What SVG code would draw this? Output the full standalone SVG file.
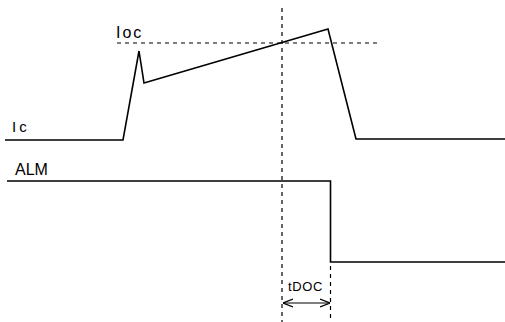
<svg xmlns="http://www.w3.org/2000/svg" width="505" height="322" viewBox="0 0 505 322">
<defs>
<style>
.w{fill:none;stroke:#000;stroke-width:1.6;stroke-linejoin:miter}
.d{fill:none;stroke:#000;stroke-width:1.2;stroke-dasharray:4 4}
.t{font-family:"Liberation Sans",Arial,sans-serif;fill:#000}
</style>
<marker id="ah" viewBox="0 0 10 10" refX="10" refY="5" markerWidth="10" markerHeight="10" markerUnits="userSpaceOnUse" orient="auto-start-reverse">
<path d="M0,1 L10,5 L0,9" fill="none" stroke="#000" stroke-width="1.2"/>
</marker>
</defs>
<rect width="505" height="322" fill="#fff"/>
<g id="connectors">
<line class="d" x1="117" y1="43" x2="378" y2="43"/>
<line class="d" x1="282" y1="8" x2="282" y2="322"/>
<line class="d" x1="330.5" y1="266" x2="330.5" y2="322"/>
<line x1="283" y1="303" x2="330" y2="303" stroke="#000" stroke-width="1.1" marker-start="url(#ah)" marker-end="url(#ah)"/>
</g>
<g id="ic">
<polyline class="w" points="5,140 123,140 139,51 144,83 328,29 356,139 505,139"/>
<text class="t" x="12" y="132" font-size="15" letter-spacing="3">Ic</text>
</g>
<g id="ioc">
<text class="t" x="116" y="38" font-size="16" letter-spacing="2">Ioc</text>
</g>
<g id="alm">
<polyline class="w" points="7,181 330.5,181 330.5,262 505,262"/>
<text class="t" x="15" y="175" font-size="16">ALM</text>
</g>
<g id="tdoc">
<text class="t" x="288" y="291" font-size="13" letter-spacing="0.6">tDOC</text>
</g>
</svg>
